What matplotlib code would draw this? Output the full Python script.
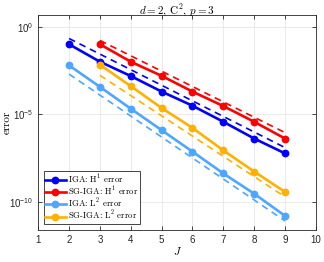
import numpy as np
import matplotlib
matplotlib.use("Agg")
import matplotlib.pyplot as plt
from matplotlib.font_manager import FontProperties

# tick labels in a Helvetica-like face, everything else in CM
plt.rcParams["font.family"] = "Liberation Sans"
plt.rcParams["mathtext.fontset"] = "custom"
plt.rcParams["mathtext.rm"] = "Liberation Sans"
plt.rcParams["mathtext.it"] = "Liberation Sans:italic"

# levels J
j_iga = [2, 3, 4, 5, 6, 7, 8, 9]
j_sg = [3, 4, 5, 6, 7, 8, 9]

# log10 of errors
iga_h1 = [-0.98, -1.98, -2.80, -3.69, -4.50, -5.42, -6.38, -7.23]
sg_h1 = [-0.98, -1.98, -2.79, -3.69, -4.52, -5.42, -6.38]
iga_l2 = [-2.19, -3.42, -4.67, -5.90, -7.13, -8.38, -9.54, -10.81]
sg_l2 = [-2.15, -3.38, -4.63, -5.77, -7.06, -8.27, -9.44]

# dashed reference slopes (end points, log10)
ref_iga_j = [2, 9]
ref_sg_j = [3, 9]
ref_iga_h1 = [-0.65, -6.90]
ref_sg_h1 = [-0.76, -6.04]
ref_iga_l2 = [-2.69, -11.10]
ref_sg_l2 = [-2.76, -9.72]

labels = [r"IGA: H$^1$ error", r"SG-IGA: H$^1$ error",
          r"IGA: L$^2$ error", r"SG-IGA: L$^2$ error"]
colors = ["#0000ff", "#ff0000", "#4da6ff", "#ffb000"]


def cm(size):
    return FontProperties(family="cmr10", size=size, math_fontfamily="cm")


def main():
    fig = plt.figure(figsize=(3.24, 2.62), dpi=100)
    ax = fig.add_axes([0.118, 0.122, 0.857, 0.821])

    series = [(j_iga, iga_h1), (j_sg, sg_h1), (j_iga, iga_l2), (j_sg, sg_l2)]
    refs = [(ref_iga_j, ref_iga_h1), (ref_sg_j, ref_sg_h1),
            (ref_iga_j, ref_iga_l2), (ref_sg_j, ref_sg_l2)]

    for (x, y), c, lab in zip(series, colors, labels):
        ax.plot(x, 10.0 ** np.array(y), "-o", color=c, lw=1.9, ms=4.6,
                label=lab, zorder=3)
    for (x, y), c in zip(refs, colors):
        ax.plot(x, 10.0 ** np.array(y), "--", color=c, lw=1.2,
                dashes=(4, 3), zorder=2)

    ax.set_yscale("log")
    ax.set_xlim(1, 10)
    ax.set_ylim(10 ** -11.62, 10 ** 0.70)
    ax.set_xticks(range(1, 11))
    ax.set_yticks([1e-10, 1e-5, 1e0])
    ax.yaxis.set_minor_locator(matplotlib.ticker.NullLocator())
    ax.grid(True, color="#e6e6e6", lw=0.6)
    ax.set_axisbelow(True)
    for s in ax.spines.values():
        s.set_color("#262626")
        s.set_linewidth(0.6)
    ax.tick_params(direction="in", top=True, right=True, labelsize=7,
                   length=3, width=0.6, colors="#262626")

    ax.set_title(r"$d=2$, C$^2$, $p=3$", fontproperties=cm(8), pad=1)
    ax.set_xlabel(r"$J$", fontproperties=cm(8), labelpad=0)
    ax.set_ylabel("error", fontproperties=cm(8))
    ax.yaxis.set_label_coords(-0.095, 0.5)

    leg = ax.legend(loc="lower left", prop=cm(6.3), handlelength=2.3,
                    borderpad=0.2, labelspacing=-0.1, handletextpad=0.3,
                    borderaxespad=0.3, fancybox=False, framealpha=1,
                    bbox_to_anchor=(0.01, 0.015))
    leg.get_frame().set_edgecolor("#262626")
    leg.get_frame().set_linewidth(0.6)

    fig.savefig("out.png", dpi=100)


if __name__ == "__main__":
    main()
